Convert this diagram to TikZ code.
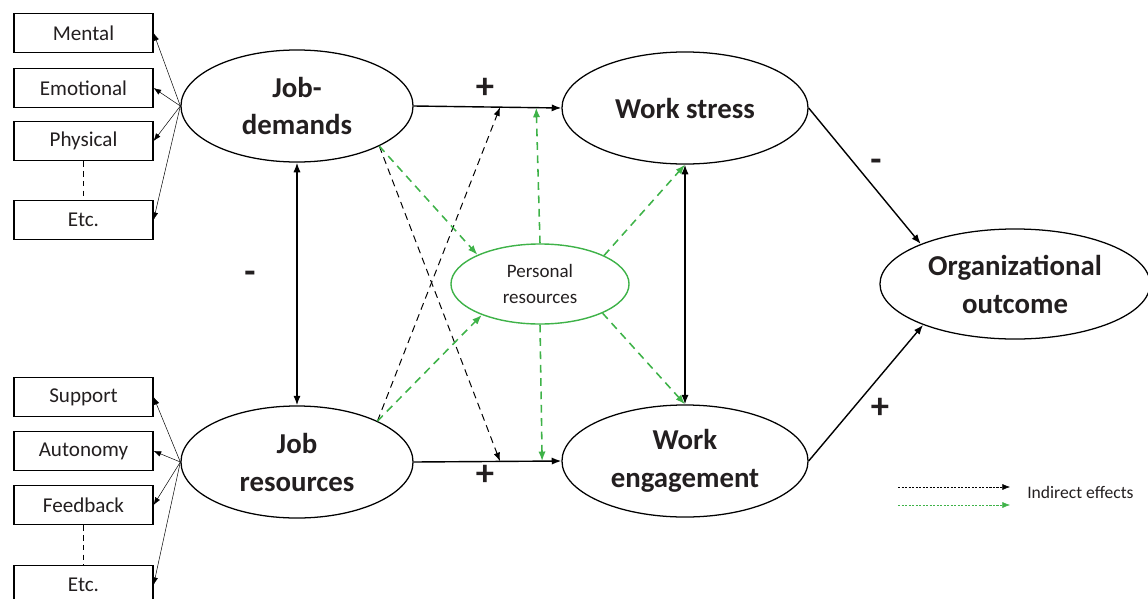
\documentclass[tikz,border=0pt]{standalone}
\usepackage{fontspec}
\setmainfont{Carlito}
\usetikzlibrary{arrows.meta,calc,shapes.geometric}
\definecolor{prgreen}{RGB}{62,178,72}
\definecolor{inkgray}{RGB}{35,31,32}

\tikzset{
	factor/.style={draw, ellipse, line width=0.9pt, inner sep=0pt, align=center,
		minimum width=5.8cm, minimum height=2.8cm, text=inkgray,
		font=\fontsize{20.5}{27}\selectfont\bfseries},
	facet/.style={draw, rectangle, line width=0.8pt, inner sep=0pt,
		minimum width=3.475cm, minimum height=0.975cm, text=inkgray,
		font=\fontsize{15}{18}\selectfont},
	direct/.style={line width=1pt, -{Latex[length=2.4mm,width=1.8mm]}},
	twoway/.style={line width=1pt, {Latex[length=2.4mm,width=1.8mm]}-{Latex[length=2.4mm,width=1.8mm]}},
	facetarrow/.style={line width=0.35pt, -{Latex[length=1.9mm,width=1.4mm]}},
	indirect/.style={line width=0.7pt, dash pattern=on 5pt off 3.5pt, -{Latex[length=2.2mm,width=1.6mm]}},
	moderate/.style={prgreen, line width=1.1pt, dash pattern=on 5.5pt off 4pt, -{Latex[length=2.4mm,width=1.8mm]}},
	sign/.style={text=inkgray, font=\fontsize{26}{30}\selectfont\bfseries},
}

\begin{document}
\begin{tikzpicture}[x=0.025cm, y=-0.025cm]
		%%%%% START %%%%%
		\useasboundingbox (0, 0) rectangle (1148, 598);
		
		% main factors
		\node[factor] (jd) at (297, 106) {Job-\\demands};
		\node[factor] (jr) at (297, 462) {Job\\resources};
		\node[factor, minimum width=6.15cm] (ws) at (685, 108) {Work stress};
		\node[factor, minimum width=6.15cm] (we) at (685, 461) {Work\\engagement};
		\node[factor, minimum width=6.75cm, minimum height=2.75cm] (oo) at (1015, 284) {Organizational\\outcome};
		\node[factor, draw=prgreen, line width=1pt, minimum width=4.45cm, minimum height=2.0cm,
			font=\fontsize{13.5}{18.5}\selectfont] (pr) at (540, 284) {Personal\\resources};
		
		% demand facets
		\node[facet] (mental) at (83.5, 33) {Mental};
		\node[facet] (emotional) at (83.5, 88) {Emotional};
		\node[facet] (physical) at (83.5, 141) {Physical};
		\node[facet] (etcd) at (83.5, 220) {Etc.};
		\draw[line width=0.8pt, dash pattern=on 4pt off 3pt] (physical) -- (etcd);
		
		% resource facets
		\node[facet] (support) at (83.5, 397) {Support};
		\node[facet] (autonomy) at (83.5, 451) {Autonomy};
		\node[facet] (feedback) at (83.5, 505) {Feedback};
		\node[facet] (etcr) at (83.5, 585) {Etc.};
		\draw[line width=0.8pt, dash pattern=on 4pt off 3pt] (feedback) -- (etcr);
		
		\foreach \facetname in {mental, emotional, physical, etcd}
			\draw[facetarrow] (jd.west) -- (\facetname.east);
		\foreach \facetname in {support, autonomy, feedback, etcr}
			\draw[facetarrow] (jr.west) -- (\facetname.east);
		
		% direct paths
		\draw[direct] (jd.east) -- (ws.west);
		\draw[direct] (jr.east) -- (we.west);
		\draw[twoway] (jd.south) -- (jr.north);
		\draw[twoway] (ws.south) -- (we.north);
		\draw[direct] (ws.east) -- (oo.157);
		\draw[direct] (we.east) -- (oo.204);
		
		\node[sign] (plustop) at (485, 88) {+};
		\node[sign] (plusbot) at (485, 475) {+};
		\node[sign] (minusleft) at (250, 277) {-};
		\node[sign] (minusright) at (876, 165) {-};
		\node[sign] (plusright) at (880, 408) {+};
		
		% indirect effects through the other factor
		\coordinate (upblack) at ($(jd.east)!0.585!(ws.west)$);
		\coordinate (upgreen) at ($(jd.east)!0.83!(ws.west)$);
		\coordinate (lowblack) at ($(jr.east)!0.585!(we.west)$);
		\coordinate (lowgreen) at ($(jr.east)!0.87!(we.west)$);
		\draw[indirect] (jd.-26) -- (lowblack);
		\draw[indirect] (jr.27) -- (upblack);
		
		% personal resources
		\draw[moderate] (jd.-26) -- (pr.155);
		\draw[moderate] (jr.27) -- (pr.208);
		\draw[moderate] (pr.north) -- (upgreen);
		\draw[moderate] (pr.south) -- (lowgreen);
		\draw[moderate] (pr.24) -- (ws.south);
		\draw[moderate] (pr.-25) -- (we.north);
		
		% legend
		\coordinate (legka) at (898, 487);
		\coordinate (legkb) at (1010, 487);
		\coordinate (legga) at (898, 505);
		\coordinate (leggb) at (1010, 505);
		\draw[line width=0.4pt, dash pattern=on 1.5pt off 1pt, -{Latex[length=1.9mm,width=1.5mm]}] (legka) -- (legkb);
		\draw[prgreen, line width=0.4pt, dash pattern=on 1.5pt off 1pt, -{Latex[length=1.9mm,width=1.5mm]}] (legga) -- (leggb);
		\node[anchor=west, inner sep=0pt, text=inkgray, font=\fontsize{12.5}{15}\selectfont] (legtext) at (1027, 492) {Indirect effects};
		
		%%%%% END %%%%%
	\end{tikzpicture}
\end{document}
